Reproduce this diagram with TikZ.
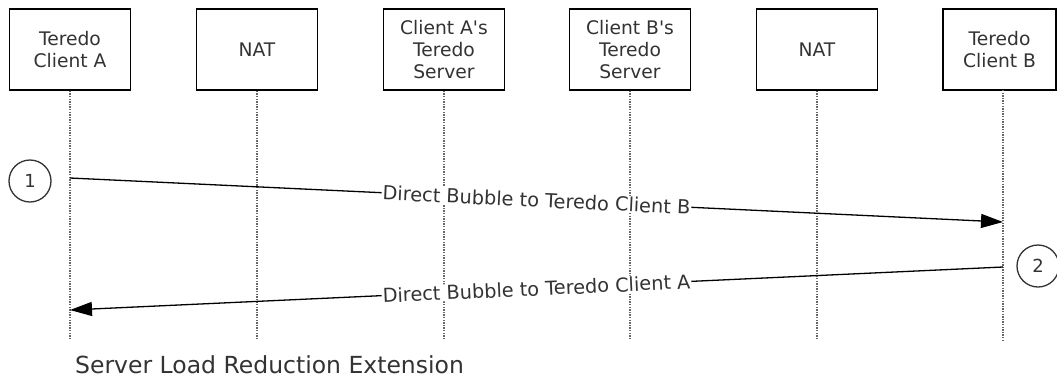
\documentclass[tikz,border=0pt]{standalone}
\usepackage{fontspec}
\setmainfont{DejaVu Sans}[Ligatures=TeXOff]
\usetikzlibrary{arrows.meta}
\definecolor{txt}{HTML}{333333}
\definecolor{life}{HTML}{666666}
\tikzset{
  actor/.style={draw=black, line width=1.5pt, fill=white, minimum width=121pt, minimum height=81pt,
    inner sep=0pt, align=center, text=txt, font=\fontsize{18.7}{22}\selectfont},
  lifeline/.style={draw=life, line width=1.8pt, dash pattern=on 1.4pt off 1.2pt},
  msg/.style={draw=black, line width=1.3pt, -{Triangle[length=22pt,width=14pt]}},
  msglabel/.style={sloped, fill=white, inner sep=1pt, text=txt, font=\fontsize{19.3}{22}\selectfont},
  stepnum/.style={draw=txt, line width=1.3pt, circle, minimum size=42pt, inner sep=0pt, text=txt,
    font=\fontsize{18}{20}\selectfont},
  caption/.style={anchor=base west, inner sep=0pt, text=txt, font=\fontsize{23.5}{26}\selectfont}
}
\begin{document}
\begin{tikzpicture}[x=1pt, y=-1pt]
\useasboundingbox (0,0) rectangle (1057,381);
\fill[white] (0,0) rectangle (1057,381);
% actors
\node[actor] (cA) at (70,49.5) {Teredo\\Client A};
\node[actor] (natA) at (257,49.5) {NAT};
\node[actor] (sA) at (444,49.5) {Client A's\\Teredo\\Server};
\node[actor] (sB) at (630,49.5) {Client B's\\Teredo\\Server};
\node[actor] (natB) at (817,49.5) {NAT};
\node[actor, minimum width=113pt] (cB) at (999.5,49.5) {Teredo\\Client B};
% lifeline ends
\coordinate (cAe) at (70,340);
\coordinate (natAe) at (257,340);
\coordinate (sAe) at (444,340);
\coordinate (sBe) at (630,340);
\coordinate (natBe) at (817,340);
\coordinate (cBe) at (1003,340);
\coordinate (cBt) at (1003,90);
\draw[lifeline] (cA.south) -- (cAe);
\draw[lifeline] (natA.south) -- (natAe);
\draw[lifeline] (sA.south) -- (sAe);
\draw[lifeline] (sB.south) -- (sBe);
\draw[lifeline] (natB.south) -- (natBe);
\draw[lifeline] (cBt) -- (cBe);
% messages
\coordinate (m1s) at (70,178);
\coordinate (m1e) at (1003,222);
\coordinate (m2s) at (1003,267);
\coordinate (m2e) at (70,310);
\draw[msg] (m1s) -- node[msglabel] (l1) {Direct Bubble to Teredo Client B} (m1e);
\draw[msg] (m2s) -- node[msglabel] (l2) {Direct Bubble to Teredo Client A} (m2e);
% step numbers
\node[stepnum] (n1) at (30,181) {1};
\node[stepnum] (n2) at (1038,266) {2};
% caption
\node[caption] (cap) at (75,373) {Server Load Reduction Extension};
\end{tikzpicture}
\end{document}
